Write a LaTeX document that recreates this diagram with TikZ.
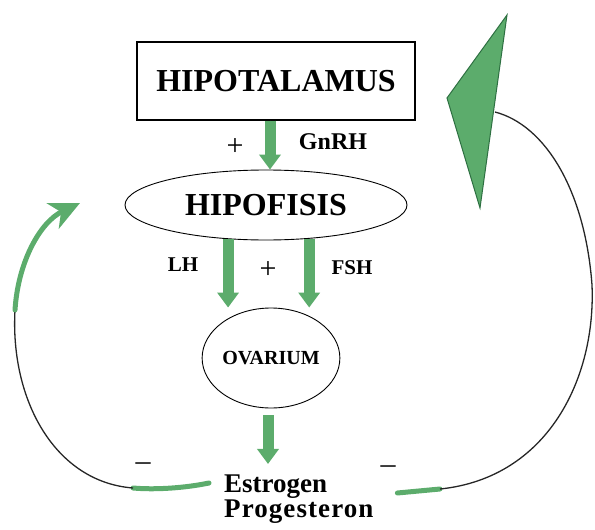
\documentclass[tikz,border=0pt]{standalone}
\usepackage{fontspec}
\setmainfont{Liberation Serif}
\usetikzlibrary{shapes.geometric, arrows.meta, positioning, calc}
\definecolor{cHormone}{RGB}{92,172,108}
\definecolor{cHormoneDk}{RGB}{46,112,66}
\tikzset{
	organ/.style   ={rectangle, draw=black, line width=1.1pt, minimum width=278pt, minimum height=78pt, font=\fontsize{32}{34}\selectfont\bfseries},
	gland/.style   ={ellipse, draw=black, line width=0.9pt, inner sep=0pt},
	hormone/.style ={-{Triangle[length=15pt, width=21pt]}, line width=11pt, draw=cHormone, fill=cHormone},
	feedback/.style={line width=5pt, draw=cHormone, line cap=round},
	loopline/.style={line width=1.3pt, draw=black!85},
	lbl/.style     ={font=\fontsize{21}{23}\selectfont\bfseries, inner sep=1pt},
	sgn/.style     ={font=\fontsize{30}{32}\selectfont, inner sep=0pt},
}
\begin{document}
\begin{tikzpicture}[x=1pt, y=-1pt]
	\useasboundingbox (0,0) rectangle (595,530);
	\node[organ] (hipo) at (276,81) {HIPOTALAMUS};
	\node[gland, minimum width=282pt, minimum height=70pt, font=\fontsize{32}{34}\selectfont\bfseries] (hipof) at (266,205) {HIPOFISIS};
	\node[gland, minimum width=128pt, minimum height=100pt, font=\fontsize{20}{22}\selectfont\bfseries] (ova) at (271,358) {OVARIUM};
	\node[lbl, font=\fontsize{27}{29}\selectfont\bfseries, anchor=west] (estr) at (223,487) {Estrogen};
	\node[lbl, font=\fontsize{27}{29}\selectfont\bfseries\addfontfeature{LetterSpace=4}, anchor=west] (prog) at (223,512) {Progesteron};
	% hormones
	\draw[hormone] ($(hipo.south)+(-6,0)$) -- ($(hipof.north)+(4,0)$);
	\draw[hormone] (hipof.-138) -- (hipof.-138 |- ova.north);
	\draw[hormone] (hipof.-38) -- (hipof.-38 |- ova.north);
	\draw[hormone] ($(ova.south)+(-3,7)$) -- ($(ova.south |- estr.north)+(-3,-10)$);
	\node[lbl, font=\fontsize{24}{26}\selectfont\bfseries] (gnrh) at (333,142) {GnRH};
	\node[lbl] (lh) at (183,265) {LH};
	\node[lbl] (fsh) at (352,268) {FSH};
	\node[sgn] (plusa) at (235,147) {+};
	\node[sgn] (plusb) at (268,270) {+};
	% feedback loops
	\coordinate (ltop) at (80,203);
	\coordinate (rtop) at (495,112);
	\draw[feedback] ($(estr.west)+(-14,-4)$) .. controls (185,488) and (155,490) .. (133,488);
	\draw[loopline] (133,488) .. controls (55,482) and (10,400) .. (15,310);
	\draw[feedback, -{Stealth[length=30pt, width=28pt, inset=9pt]}] (15,310) .. controls (18,262) and (40,222) .. (ltop);
	\draw[feedback] ($(estr.east)+(69,6)$) -- (440,489);
	\draw[loopline] (440,489) .. controls (548,478) and (596,378) .. (592,285) .. controls (585,190) and (545,125) .. (rtop);
	\filldraw[fill=cHormone, draw=cHormoneDk, line width=1pt] (507,15) -- (447,98) -- (480,208) -- cycle;
	\node[sgn] (minl) at (143,467) {–};
	\node[sgn] (minr) at (388,470) {–};
\end{tikzpicture}
\end{document}
